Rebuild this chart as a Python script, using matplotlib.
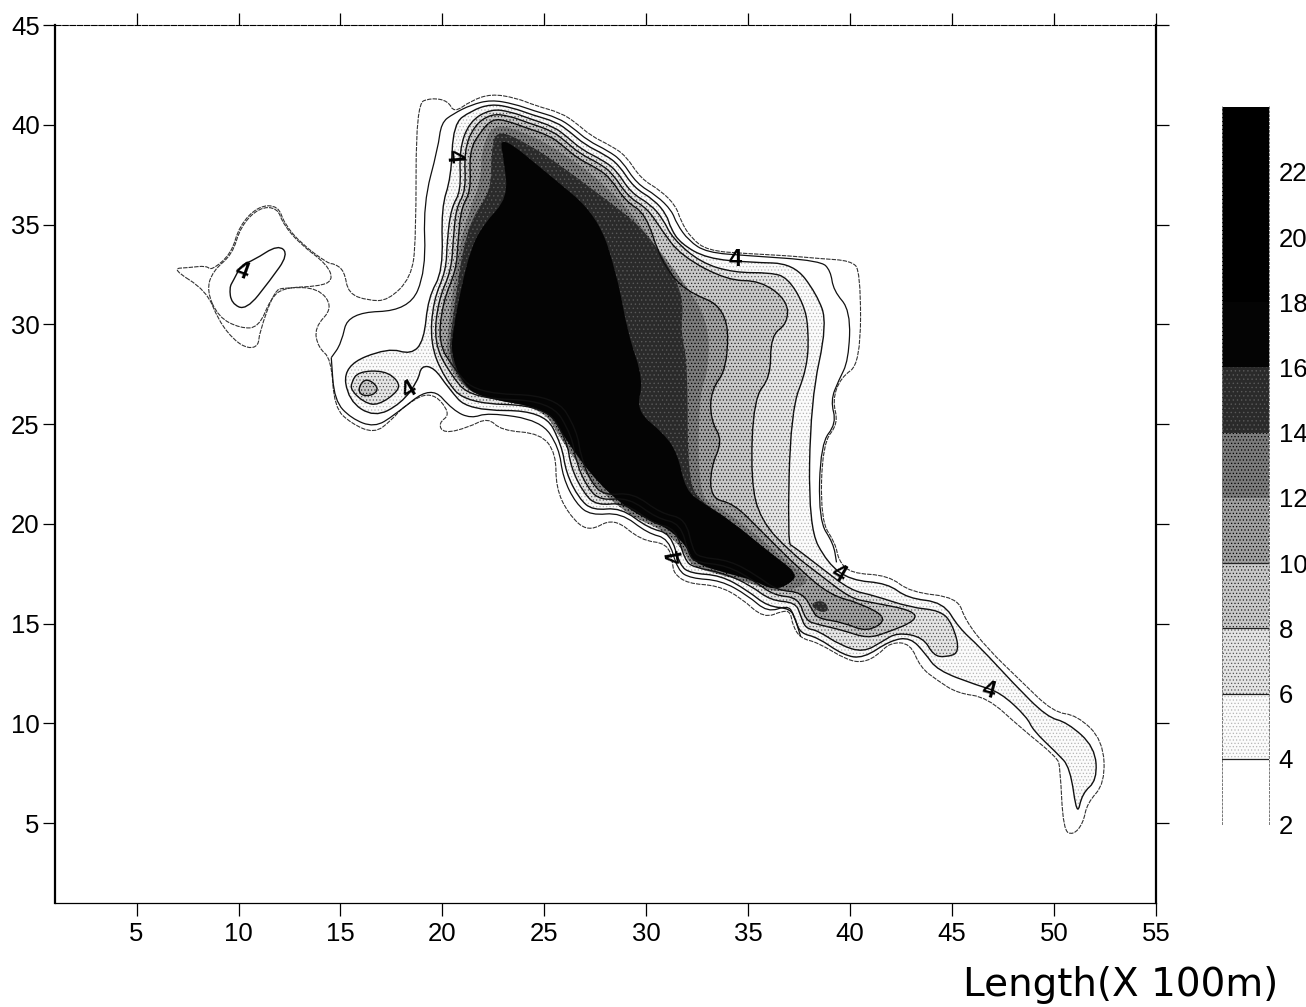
import matplotlib
matplotlib.use("Agg")
import matplotlib.pyplot as plt
from matplotlib.path import Path
from matplotlib.patches import PathPatch

plt.rcParams['font.family'] = ['Liberation Sans', 'DejaVu Sans']
plt.rcParams['hatch.linewidth'] = 0.5

W, H = 1306, 1007

# Depth contours, as (length, width) in units of 100 m
depth2 = [(6.71,32.79),(7.55,32.84),(8.43,32.94),(8.67,32.69),(9.65,33.54),(10.04,34.94),(10.98,35.94),(11.95,35.94),
 (12.25,35.04),(13.08,34.04),(14.4,33.04),(14.7,33.04),(15.19,32.69),(15.38,31.54),(16.36,31.19),(17.34,31.19),
 (18.47,32.34),(18.71,34.19),(18.71,41.05),(19.45,41.35),(20.28,41.2),(20.57,40.6),(21.4,41.2),(22.38,41.55),
 (23.6,41.35),(24.59,40.95),(25.81,40.6),(26.55,40.1),(27.28,39.45),(28.26,38.95),(29,38.45),(29.73,37.3),
 (30.71,36.7),(31.45,35.94),(31.69,35.19),(32.18,34.34),(33.01,33.69),(34.97,33.54),(36.93,33.44),(38.55,33.29),
 (40.02,33.19),(40.51,32.69),(40.51,28.03),(39.53,27.33),(39.13,26.18),(39.43,25.03),(38.64,24.03),(38.55,20.17),
 (39.28,19.02),(39.43,18.17),(40.02,17.52),(41.88,17.42),(42.95,16.57),(45.26,16.32),(45.65,15.16),(46.72,13.76),
 (48.34,12.16),(49.96,10.56),(51.13,10.41),(52.4,9.16),(52.5,7.0),(51.62,6.0),(51.43,5.0),(50.94,4.4),(50.45,4.65),
 (50.3,7.8),(50.15,8.3),(48.34,9.8),(46.72,11.31),(45.26,11.51),(44.27,12.16),(43.44,12.81),(42.95,14.01),
 (41.97,14.06),(41.34,13.41),(40.65,13.06),(39.87,13.16),(38.4,14.06),(37.57,14.26),(37.18,14.91),(37.08,15.56),
 (36.74,15.66),(35.76,15.26),(34.63,16.31),(33.5,16.91),(32.03,17.01),(31.35,17.52),(31.3,18.02),(31.05,19.02),
 (29.73,19.17),(28.41,20.32),(27.14,19.57),(26.16,20.52),(25.57,21.82),(25.57,23.52),(24.83,24.53),(22.88,24.68),
 (22.24,25.33),(21.26,24.83),(20.08,24.53),(19.79,25.03),(20.43,25.53),(19.45,26.68),(18.13,25.93),(17.49,25.18),
 (16.66,24.53),(15.53,25.03),(14.7,25.83),(14.55,28.28),(13.91,28.83),(13.72,29.84),(14.65,30.84),(13.91,31.84),
 (12.25,31.84),(11.76,31.69),(11.02,29.58),(10.98,28.93),(10.49,28.78),(9.8,29.18),(9.02,30.19),(8.43,31.69),(7.55,32.79)]

depth3_island = [(8.43,31.69),(8.75,32.69),(9.7,33.5),(10.1,34.9),(11.0,35.85),(11.9,35.85),(12.2,35.0),(13.05,34.0),
 (14.35,33.0),(14.65,32.19),(13.91,31.9),(12.25,31.84),(11.6,31.34),(11.0,29.84),(10.1,29.8),(9.02,30.35),(8.43,31.69)]

depth3_north = [(14.55,28.33),(15.04,29.03),(15.38,30.59),(18.37,30.69),(19.2,32.69),(19.06,36.04),(19.79,38.85),(19.94,40.1),
 (20.53,40.55),(21.41,41),(22.38,41.25),(23.51,41.05),(24.49,40.7),(25.67,40.35),(26.4,39.85),(27.14,39.2),(28.12,38.7),
 (28.8,38.2),(29.53,37.05),(30.51,36.45),(31.25,35.7),(31.49,35.04),(32.08,34.19),(32.96,33.6),(34.97,33.44),(38.55,33.19),
 (39.04,32.69),(39.18,31.69),(40.02,30.69),(39.92,28.18),(39.43,27.18),(39.04,26.18),(39.33,25.03),(38.55,24.03),
 (38.45,20.17),(39.18,19.02),(39.33,18.07)]

depth3_south = [(14.55,28.33),(14.7,26.18),(15.53,25.28),(16.66,24.83),(17.63,25.43),(19.45,26.93),(20.53,25.68),(21.41,25.28),
 (22.24,25.58),(24.83,25.18),(25.72,23.83),(25.91,22.32),(26.55,21.02),(27.28,20.42),(28.75,20.57),(30.07,19.52),(31.1,19.27),
 (31.54,17.67),(32.18,17.27),(33.65,17.17),(34.97,16.42),(35.95,15.56),(36.93,15.91),(37.22,15.51),(37.57,14.36)]

depth4_main = [(20.53,40.05),(21.41,40.7),(22.38,41.05),(23.46,40.85),(24.39,40.5),(25.57,40.15),(26.25,39.65),(26.99,39.0),
 (27.97,38.5),(28.65,38.0),(29.39,36.85),(30.37,36.25),(31,35.5),(31.2,34.8),(31.69,34.05),(32.96,33.3),(35.12,33.1),
 (37.22,33.05),(38.35,31.54),(38.89,30.04),(38.06,26.18),(37.96,19.83),(38.89,18.02),(40.02,17.17),(41.84,17.02),
 (42.81,16.27),(44.57,16.07),(45.31,14.81),(46.38,13.81),(48,12.01),(49.66,10.31),(50.64,10.06),(52.01,8.81),(52.11,7.15),
 (51.38,6.5),(51.13,5.3),(50.79,7.8),(50.15,8.5),(48.97,9.65),(48.68,10.31),(47.36,11.56),(46.23,11.91),(44.27,12.66),
 (43.68,13.51),(42.95,14.31),(41.97,14.16),(40.65,13.26),(39.68,13.41),(38.4,14.31),(37.57,14.51),(37.32,15.16),(37.08,15.76),
 (35.95,15.86),(34.97,16.66),(33.65,17.42),(32.18,17.52),(31.64,17.92),(31.2,19.52),(30.12,19.77),(28.75,20.82),(27.38,20.67),
 (26.7,21.27),(26.06,22.57),(25.86,23.93),(24.98,25.68),(21.26,25.68),(20.28,26.83),(19.6,27.83),(18.96,27.93),(18.81,27.18),
 (17.98,26.03),(16.66,25.33),(15.38,26.18),(15.14,27.93),(17.34,28.83),(18.47,28.48),(19.1,29.18),(19.3,31.34),(20.04,32.69),
 (19.94,35.84),(20.43,37.35),(20.53,40.05)]

depth4_island = [(11.95,34.0),(12.45,33.5),(11.55,32.2),(10.38,30.7),(9.65,31.05),(9.55,31.84),(9.75,32.2),(10.15,33.0),(10.73,33.2),(11.95,34.0)]

depth6_main = [(21.31,40.15),(22.38,40.8),(23.36,40.65),(24.3,40.3),(25.47,39.9),(26.11,39.4),(26.84,38.75),(27.82,38.25),
 (28.51,37.75),(29.24,36.6),(30.22,36.0),(30.81,35.29),(31.3,34.29),(32.67,33.09),(34.29,32.59),(36.1,32.59),(36.93,32.34),
 (37.71,31.04),(37.96,29.84),(37.91,27.83),(37.08,25.68),(36.93,19.02),(37.22,18.87),(38.55,17.82),(40.02,16.67),(41.14,16.42),
 (42.95,15.81),(44.42,15.66),(45.01,15.01),(45.4,13.56),(44.67,13.31),(44.08,13.41),(43.59,14.31),(42.32,14.56),(41.58,14.11),
 (40.65,13.56),(39.53,13.91),(38.4,14.66),(37.81,14.76),(37.57,15.41),(37.32,16.06),(36.1,16.16),(35.12,16.91),(33.8,17.54),
 (32.33,17.82),(31.89,18.17),(31.45,19.77),(30.32,20.02),(28.95,21.07),(27.58,20.92),(26.94,21.52),(26.3,22.83),(26.11,24.18),
 (25.08,25.93),(21.16,26.03),(20.08,27.33),(19.4,29.03),(19.55,31.19),(20.18,32.69),(20.23,34.19),(20.43,35.84),(20.92,36.7),
 (20.82,38.7),(21.31,40.15)]

depth6_islet = [(15.53,27.08),(15.87,27.63),(17.15,27.68),(17.83,27.18),(17.88,26.68),(16.85,25.93),(16.17,26.08),(15.53,26.68),(15.53,27.08)]

depth8_main = [(21.55,39.95),(22.38,40.55),(23.27,40.45),(24.2,40.1),(25.37,39.7),(26.01,39.2),(26.74,38.55),(27.72,38.05),
 (28.36,37.55),(29.1,36.4),(30.07,35.79),(30.71,34.79),(31.69,33.44),(33.99,32.19),(35.61,32.19),(36.93,31.19),(36.93,30.04),
 (36.1,29.43),(36.1,27.33),(35.27,26.33),(35.12,22.17),(35.61,20.17),(37.08,18.57),(38.55,17.42),(40.02,16.27),(41,16.07),
 (43.1,15.66),(43.25,15.16),(41.83,14.56),(40.85,14.26),(39.67,14.66),(38.4,14.96),(37.81,15.16),(37.47,16.31),(36.25,16.41),
 (35.27,17.17),(33.94,17.92),(32.47,18.07),(32.08,18.42),(31.69,20.02),(30.52,20.27),(29.14,21.32),(27.77,21.17),(27.14,21.77),
 (26.55,23.08),(26.35,24.43),(25.32,26.18),(21.41,26.28),(20.33,27.58),(19.59,29.08),(19.79,31.19),(20.43,32.69),(20.53,34.19),
 (20.67,35.84),(21.16,36.7),(21.06,38.7),(21.55,39.95)]

depth8_islet = [(15.87,26.83),(16.26,27.33),(16.9,26.83),(16.6,26.43),(16.0,26.43),(15.87,26.83)]

depth10_main = [(21.9,39.7),(22.48,40.3),(23.17,40.2),(24.1,39.85),(25.27,39.45),(25.91,38.95),(26.65,38.3),(27.63,37.8),
 (28.26,37.3),(29,36.15),(29.98,35.54),(30.71,33.19),(31.84,31.69),(33.99,30.84),(33.99,27.83),(33.16,26.68),(33.16,25.18),
 (33.75,24.18),(33.16,22.83),(33.16,21.27),(34.29,21.02),(35.61,19.67),(37.57,17.67),(39.04,16.42),(40.51,16.02),(41.88,15.26),
 (40.85,14.56),(39.67,15.06),(38.4,15.26),(38.16,15.66),(37.66,16.57),(36.4,16.67),(35.41,17.42),(34.09,18.17),(32.62,18.32),
 (32.28,18.67),(31.93,20.27),(30.71,20.52),(29.34,21.57),(27.97,21.42),(27.33,22.02),(26.79,23.33),(26.6,24.68),(25.57,26.43),
 (21.65,26.53),(20.53,27.83),(19.79,29.08),(20.04,31.19),(20.67,32.69),(20.77,34.19),(20.92,35.84),(21.41,36.7),(21.31,38.7),(21.9,39.7)]

depth12_main = [(22.48,40.1),(24.1,39.6),(25.57,38.8),(27.28,37.6),(29,35.94),(30.46,33.94),(31.79,32.19),(33.06,30.19),(33.06,27.68),
 (32.57,26.43),(32.57,21.42),(33.4,20.92),(34.87,19.92),(36.83,18.17),(38.06,17.17),(37.42,16.77),(36.35,16.57),(35.12,17.02),
 (33.89,17.37),(32.18,17.87),(31.84,18.67),(30.86,19.67),(29.24,20.37),(27.48,21.87),(25.81,24.18),(24.98,25.78),(21.65,26.43),
 (20.62,27.28),(20.18,28.53),(20.28,29.69),(20.52,31.84),(20.82,33.84),(21.31,35.69),(21.9,37.2),(21.9,38.7),(22.48,40.1)]

depth14_main = [(22.68,39.8),(24.35,38.95),(25.81,37.95),(27.77,36.45),(29.73,34.94),(31.05,33.04),(31.84,31.34),(31.69,29.54),
 (32.03,28.18),(32.03,22.02),(32.81,21.02),(34.14,20.17),(36.1,18.52),(37.42,17.52),(37.08,17.02),(36.25,16.67),(35.27,17.17),
 (33.99,17.52),(32.33,18.02),(32.03,18.82),(31.05,19.82),(29.39,20.52),(27.63,22.02),(25.96,24.33),(25.18,25.78),(21.75,26.33),
 (20.82,27.18),(20.33,28.53),(20.43,29.69),(20.72,31.84),(21.02,33.84),(21.51,35.44),(22.39,36.7),(22.39,38.7),(22.68,39.8)]

depth16_main = [(22.78,39.55),(25.18,37.55),(27.63,35.44),(28.6,32.34),(29.09,29.54),(29.88,27.18),(29.49,25.68),(30.86,24.53),
 (31.54,23.52),(31.93,21.67),(32.81,21.02),(34.14,20.17),(36.1,18.52),(37.42,17.52),(37.08,17.02),(36.25,16.67),(35.27,17.17),
 (33.99,17.52),(32.33,18.02),(32.03,18.82),(31.05,19.82),(29.39,20.52),(27.63,22.02),(25.96,24.33),(25.18,25.78),(21.75,26.33),
 (20.92,27.18),(20.43,28.53),(20.52,29.69),(20.92,31.84),(21.41,33.84),(22.04,35.04),(23.22,36.35),(23.02,38.2),(22.78,39.55)]

deep_spot = [(38.0,16.0),(38.5,15.55),(39.0,15.65),(38.7,16.2),(38.0,16.0)]

xtick_values = [5,10,15,20,25,30,35,40,45,50,55]
ytick_values = [5,10,15,20,25,30,35,40,45]
bar_levels = [2,4,6,8,10,12,14,16,18,20,22,24]
bar_ticks = [2,4,6,8,10,12,14,16,18,20,22]
label_text = "4"
label_x = [10.19,18.37,20.53,34.38,31.45,39.43,46.77]
label_y = [32.69,26.68,38.45,33.24,18.37,17.52,11.66]
label_rot = [-20,30,-85,0,100,-30,-15]
x_title = "Length(X 100m)"

# band styles: (face, hatch, hatch colour)
band = {2:('white',None,None),
        4:('#fbfbfb','.....','#b5b5b5'), 6:('#e4e4e4','.....','#555555'), 8:('#c8c8c8','.....','#222222'),
        10:('#a0a0a0','.....','#000000'), 12:('#7c7c7c','.....','#000000'), 14:('#2a2a2a','....','#5a5a5a'),
        16:('#040404',None,None), 18:('#000000',None,None), 20:('#000000',None,None), 22:('#000000',None,None)}

fig = plt.figure(figsize=(W/100, H/100), dpi=100)
ax = fig.add_axes([55/W, 1-903/H, (1156-55)/W, (903-25)/H])
ax.set_xlim(1, 55)
ax.set_ylim(1, 45)
ax.set_xticks(xtick_values)
ax.set_yticks(ytick_values)
ax.tick_params(top=True, right=True, length=9, width=0.9, direction='out', labelsize=18.5, pad=2)
ax.tick_params(axis='x', pad=5)
for s, lw, ls in [('left',1.6,'-'),('right',1.6,'-'),('top',0.8,(0,(5,1.5))),('bottom',0.9,(0,(8,1)))]:
    ax.spines[s].set_linewidth(lw)
    ax.spines[s].set_linestyle(ls)

def curve(poly, closed):
    # quadratic curve with the read points as control points
    pts = list(poly)
    if closed:
        pts = pts[:-1]
        n = len(pts)
        mid = lambda a, b: ((a[0]+b[0])/2, (a[1]+b[1])/2)
        verts = [mid(pts[-1], pts[0])]
        codes = [Path.MOVETO]
        for i in range(n):
            verts += [pts[i], mid(pts[i], pts[(i+1) % n])]
            codes += [Path.CURVE3, Path.CURVE3]
    else:
        mid = lambda a, b: ((a[0]+b[0])/2, (a[1]+b[1])/2)
        verts = [pts[0], mid(pts[0], pts[1])]
        codes = [Path.MOVETO, Path.LINETO]
        for i in range(1, len(pts)-1):
            verts += [pts[i], mid(pts[i], pts[i+1])]
            codes += [Path.CURVE3, Path.CURVE3]
        verts.append(pts[-1])
        codes.append(Path.LINETO)
    return Path(verts, codes)

def fill(poly, level, z):
    f, h, c = band[level]
    ax.add_patch(PathPatch(curve(poly, True), facecolor=f, edgecolor=c if c else f, hatch=h, lw=0, zorder=z))

def line(poly, closed=True, lw=1.0, z=5, color='#111111', ls='-'):
    ax.add_patch(PathPatch(curve(poly, closed), fill=False, edgecolor=color, lw=lw, zorder=z, linestyle=ls))

fill(depth4_main, 4, 1); fill(depth6_islet, 6, 1.5); fill(depth8_islet, 8, 1.6)
fill(depth6_main, 6, 2); fill(depth8_main, 8, 2.1); fill(depth10_main, 10, 2.2)
fill(depth12_main, 12, 2.3); fill(depth14_main, 14, 2.4); fill(depth16_main, 16, 2.5); fill(deep_spot, 14, 2.6)

line(depth2, closed=True, lw=0.8, color='#333333', ls=(0,(4,1)))
line(depth3_island, lw=0.8, color='#333333', ls=(0,(4,1)))
line(depth3_north, closed=False, lw=0.9)
line(depth3_south, closed=False, lw=0.9)
for p in (depth4_main, depth4_island, depth6_main, depth6_islet, depth8_main, depth8_islet, depth10_main):
    line(p)

for x, y, r in zip(label_x, label_y, label_rot):
    ax.text(x, y, label_text, rotation=r, ha='center', va='center', fontsize=17, fontweight='bold', zorder=8)

fig.text(1121/W, 1-985/H, x_title, family='DejaVu Sans', fontsize=28, ha='center', va='center')

cax = fig.add_axes([1222/W, 1-824/H, 47/W, (824-105)/H])
cax.set_xlim(0, 1)
cax.set_ylim(2, 24.05)
for lo, hi in zip(bar_levels[:-1], bar_levels[1:]):
    f, h, c = band[lo]
    cax.fill_between([0,1], lo, hi, facecolor=f, edgecolor=c if c else f, hatch=h, lw=0)
for v in [4,6,8,10]:
    cax.plot([0,1],[v,v], color='#222222', lw=0.9)
for s in ('top','bottom'):
    cax.spines[s].set_visible(False)
for s in ('left','right'):
    cax.spines[s].set_linewidth(0.7)
    cax.spines[s].set_color('#777777')
    cax.spines[s].set_linestyle((0,(2,2)))
cax.set_xticks([])
cax.yaxis.tick_right()
cax.set_yticks(bar_ticks)
cax.tick_params(axis='y', length=0, labelsize=18.5, pad=7)
fig.savefig('out.png', dpi=100)
